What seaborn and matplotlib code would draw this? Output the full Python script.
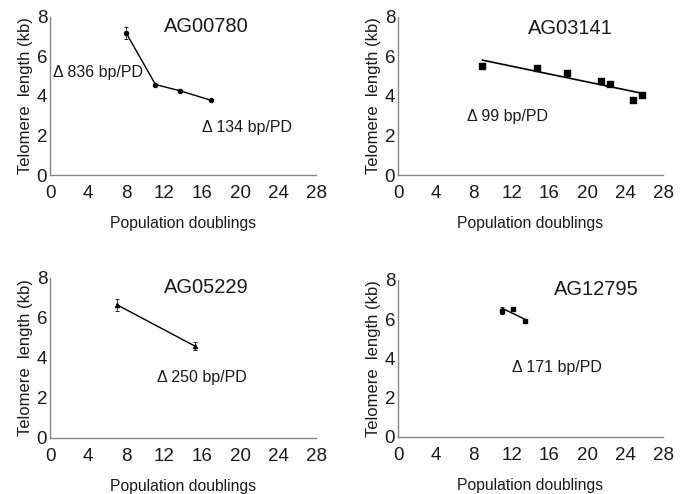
import numpy as np
import pandas as pd
import matplotlib
matplotlib.use("Agg")
import matplotlib.pyplot as plt
import seaborn as sns

sns.set_theme(style="white")
plt.rcParams['font.family'] = ['Liberation Sans', 'DejaVu Sans']

# Data
ag00780_pd = [8.0, 11.1, 13.7, 16.9]
ag00780_tl = [7.2, 4.58, 4.26, 3.79]
ag00780_err = [0.3, 0.0, 0.0, 0.0]

ag03141_pd = [8.9, 14.7, 17.9, 21.4, 22.4, 24.8, 25.8]
ag03141_tl = [5.53, 5.43, 5.14, 4.77, 4.63, 3.82, 4.07]

ag05229_pd = [7.0, 15.3]
ag05229_tl = [6.67, 4.58]
ag05229_err = [0.3, 0.2]

ag12795_pd = [11.0, 12.1, 13.4]
ag12795_tl = [6.44, 6.51, 5.9]
ag12795_err = [0.2, 0.1, 0.0]

titles = ["AG00780", "AG03141", "AG05229", "AG12795"]
rates = ["\u0394 836 bp/PD", "\u0394 134 bp/PD", "\u0394 99 bp/PD", "\u0394 250 bp/PD", "\u0394 171 bp/PD"]
xticks = [0, 4, 8, 12, 16, 20, 24, 28]
yticks = [0, 2, 4, 6, 8]

fig = plt.figure(figsize=(6.84, 4.94), dpi=100)
ax1 = fig.add_axes([0.0731, 0.6457, 0.389, 0.320])
ax2 = fig.add_axes([0.5819, 0.6457, 0.3874, 0.320])
ax3 = fig.add_axes([0.0731, 0.1134, 0.389, 0.324])
ax4 = fig.add_axes([0.5819, 0.1154, 0.3874, 0.318])

# Panel 1
d1 = pd.DataFrame({"pd": ag00780_pd, "tl": ag00780_tl})
sns.lineplot(data=d1, x="pd", y="tl", ax=ax1, color="black", lw=1.0,
             marker="o", markersize=3.2, markeredgecolor="black")
ax1.errorbar(ag00780_pd, ag00780_tl, yerr=ag00780_err, fmt="none",
             ecolor="black", elinewidth=0.5, capsize=1.5, capthick=0.6)

# Panel 2
d2 = pd.DataFrame({"pd": ag03141_pd, "tl": ag03141_tl})
sns.regplot(data=d2, x="pd", y="tl", ax=ax2, ci=None, color="black",
            marker="s", scatter_kws={"s": 20, "color": "black", "alpha": 1},
            line_kws={"lw": 1.2, "color": "black"})

# Panel 3
d3 = pd.DataFrame({"pd": ag05229_pd, "tl": ag05229_tl})
sns.lineplot(data=d3, x="pd", y="tl", ax=ax3, color="black", lw=1.0,
             marker="^", markersize=3.2, markeredgecolor="black")
ax3.errorbar(ag05229_pd, ag05229_tl, yerr=ag05229_err, fmt="none",
             ecolor="black", elinewidth=0.5, capsize=1.5, capthick=0.6)

# Panel 4
d4 = pd.DataFrame({"pd": ag12795_pd, "tl": ag12795_tl})
sns.regplot(data=d4, x="pd", y="tl", ax=ax4, ci=None, color="black",
            marker="s", scatter_kws={"s": 9, "color": "black", "alpha": 1},
            line_kws={"lw": 1.0, "color": "black"})
ax4.errorbar(ag12795_pd, ag12795_tl, yerr=ag12795_err, fmt="none",
             ecolor="black", elinewidth=0.5, capsize=1.5, capthick=0.6)

title_pos = [(16.5, 7.5), (18.2, 7.44), (16.5, 7.5), (21.0, 7.49)]
for ax, t, (tx, ty) in zip([ax1, ax2, ax3, ax4], titles, title_pos):
    ax.set_xlim(0, 28)
    ax.set_ylim(0, 8)
    ax.set_xticks(xticks)
    ax.set_yticks(yticks)
    ax.tick_params(axis="both", length=0, labelsize=13.5, colors="#1a1a1a")
    ax.tick_params(axis="x", pad=7)
    ax.tick_params(axis="y", pad=2)
    ax.set_xlabel("Population doublings", fontsize=11.3, labelpad=10, color="#1a1a1a")
    ax.set_ylabel("Telomere  length (kb)", fontsize=12, labelpad=3, color="#1a1a1a")
    for s in ["top", "right"]:
        ax.spines[s].set_visible(False)
    for s in ["left", "bottom"]:
        ax.spines[s].set_color("#888888")
        ax.spines[s].set_linewidth(1.0)
    ax.text(tx, ty, t, ha="center", va="center", fontsize=14.5, color="#1a1a1a")

ann = [(ax1, 0.3, 5.2, rates[0]), (ax1, 16.0, 2.38, rates[1]),
       (ax2, 7.3, 2.94, rates[2]), (ax3, 11.3, 3.0, rates[3]),
       (ax4, 12.0, 3.52, rates[4])]
for ax, x, y, s in ann:
    ax.text(x, y, s, ha="left", va="center", fontsize=11.5, color="#1a1a1a")

fig.savefig("out.png", dpi=100)
